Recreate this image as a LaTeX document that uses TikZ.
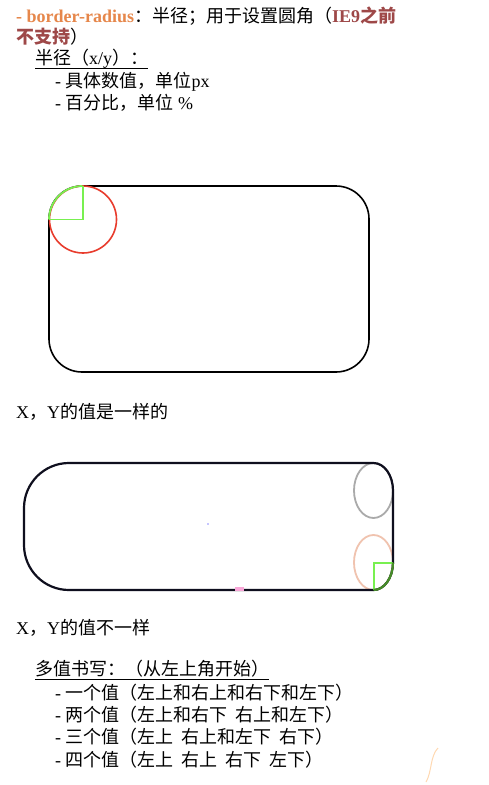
\documentclass[tikz,border=0pt]{standalone}
\usepackage{fontspec}
\setmainfont{Noto Sans CJK SC}
\newfontfamily\lat{Liberation Serif}
\usetikzlibrary{calc}
\definecolor{ora}{RGB}{230,135,75}
\definecolor{dred}{RGB}{158,72,72}
\definecolor{grn}{RGB}{120,240,80}
\definecolor{dgrn}{RGB}{70,140,40}
\definecolor{redc}{RGB}{232,60,45}
\definecolor{salm}{RGB}{240,195,175}
\definecolor{gry}{RGB}{170,170,170}
\definecolor{ink}{RGB}{15,15,30}
\begin{document}
\begin{tikzpicture}[x=1pt,y=-1pt,
  txt/.style={anchor=base west,inner sep=0pt,font=\fontsize{18}{22}\selectfont},
  ul/.style={line width=0.9pt},
  frame/.style={line width=1.6pt},
  quarter/.style={grn,line width=1.8pt}]
\fill[white] (0,0) rectangle (489,785);
\useasboundingbox (0,0) rectangle (489,785);
% header text
\node[txt] (t1) at (16,22) {{\lat\bfseries\color{ora}- border-radius}：半径；用于设置圆角（{\bfseries\color{dred}{\lat IE9}之前}};
\node[txt] (t2) at (16,43) {{\bfseries\color{dred}不支持}）};
\node[txt] (h1) at (35,64) {半径（{\lat x/y}）：};
\draw[ul] ($(h1.base west)+(0,4)$) -- ($(h1.base east)+(0,4)$);
\node[txt] (a1) at (55,87) {{\lat - }具体数值，单位{\lat px}};
\node[txt] (a2) at (55,109) {{\lat - }百分比，单位{\lat\ \%}};
% first rounded rectangle
\draw[frame, rounded corners=33pt] (49,186) rectangle (369,372);
\draw[redc,frame] (83,219.5) circle[radius=33.5pt];
\draw[quarter] (49,219.5) -- (83,219.5) -- (83,186);
\draw[quarter] (49,219.5) arc[start angle=180,end angle=90,radius=33.5pt];
\node[txt] (x1) at (16,418) {{\lat X}，{\lat Y}的值是一样的};
% second shape
\draw[gry,line width=1.8pt] (373.5,490.5) ellipse[x radius=19.5pt,y radius=27.5pt];
\draw[salm,line width=1.8pt] (373.5,562.5) ellipse[x radius=19.5pt,y radius=27.5pt];
\draw[ink,line width=2.2pt] (69,463) -- (373.5,463)
  arc[start angle=90,end angle=0,x radius=19.5pt,y radius=27.5pt] -- (393,562.5)
  arc[start angle=0,end angle=-90,x radius=19.5pt,y radius=27.5pt] -- (69,590)
  arc[start angle=270,end angle=180,radius=45pt] -- (24,508)
  arc[start angle=180,end angle=90,radius=45pt] -- cycle;
\draw[quarter] (393,563) -- (374,563) -- (374,590);
\draw[dgrn,line width=2.2pt] (393,562.5) arc[start angle=0,end angle=-90,x radius=19.5pt,y radius=27.5pt];
\fill[blue!45] (208,524) circle[radius=0.8pt];
\fill[magenta!35] (235,587) rectangle (244,591);
\node[txt] (x2) at (16,634) {{\lat X}，{\lat Y}的值不一样};
% multi-value list
\node[txt] (h2) at (35,675) {多值书写：（从左上角开始）};
\draw[ul] ($(h2.base west)+(0,4)$) -- ($(h2.base east)+(0,4)$);
\node[txt] (b1) at (55,699) {{\lat - }一个值（左上和右上和右下和左下）};
\node[txt] (b2) at (55,721) {{\lat - }两个值（左上和右下\ \ 右上和左下）};
\node[txt] (b3) at (55,743) {{\lat - }三个值（左上\ \ 右上和左下\ \ 右下）};
\node[txt] (b4) at (55,766) {{\lat - }四个值（左上\ \ 右上\ \ 右下\ \ 左下）};
\coordinate (s0) at (438,748);
\coordinate (s1) at (426,782);
\draw[orange!30,line width=1pt] (s0) .. controls (430,756) and (432,772) .. (s1);
\end{tikzpicture}
\end{document}
